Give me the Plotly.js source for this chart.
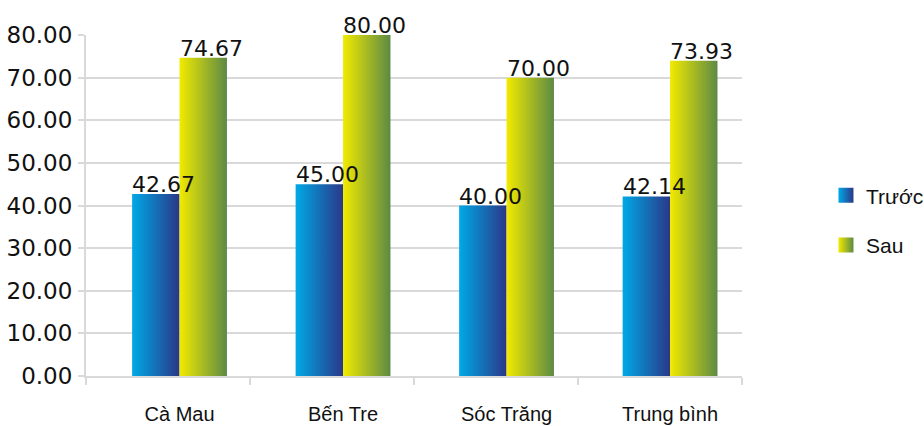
<!DOCTYPE html>
<html>
<head>
<meta charset="utf-8">
<script src="https://cdn.plot.ly/plotly-3.0.1.min.js"></script>
<style>
  html, body { margin: 0; padding: 0; background: #fff; }
  #chart { width: 924px; height: 426px; }
</style>
</head>
<body>
<div id="chart"></div>
<script>
// Provinces and the overall average
const categories = ["Cà Mau", "Bến Tre", "Sóc Trăng", "Trung bình"];
// Scores before and after
const beforeValues = [42.67, 45.00, 40.00, 42.14];
const afterValues = [74.67, 80.00, 70.00, 73.93];
const seriesNames = ["Trước", "Sau"];
const yTicks = [0, 10, 20, 30, 40, 50, 60, 70, 80];

const BAR_GAP = 0.42;              // space between category groups
const HALF_GROUP = (1 - BAR_GAP) / 2;
const GRID = "#d9d9d9";
const LABEL_FONT = { family: "DejaVu Sans", size: 22, color: "#111" };

const traces = [
  {
    type: "bar", name: seriesNames[0], x: categories, y: beforeValues,
    marker: { color: "#1a7fc4" }, legendgroup: "a", hoverinfo: "skip"
  },
  {
    type: "bar", name: seriesNames[1], x: categories, y: afterValues,
    marker: { color: "#b8c22a" }, legendgroup: "b", hoverinfo: "skip"
  },
  // carries the separate tick-mark axis along the bottom
  { type: "scatter", x: [], y: [], xaxis: "x2", yaxis: "y", showlegend: false, hoverinfo: "skip" }
];

// value labels sitting on top of each bar, starting at its left edge
const annotations = [];
categories.forEach((c, i) => {
  [[beforeValues, -HALF_GROUP], [afterValues, 0]].forEach(([vals, off]) => {
    annotations.push({
      x: i + off, y: vals[i], xref: "x", yref: "y",
      text: vals[i].toFixed(2), showarrow: false,
      xanchor: "left", yanchor: "bottom", xshift: -2, yshift: -5,
      font: LABEL_FONT
    });
  });
});

const layout = {
  width: 924, height: 426,
  margin: { l: 86, r: 182, t: 35, b: 50, autoexpand: false },
  paper_bgcolor: "#fff", plot_bgcolor: "#fff",
  barmode: "group", bargap: BAR_GAP, bargroupgap: 0,
  xaxis: {
    type: "category", categoryarray: categories,
    range: [-0.572, 3.44],
    ticks: "", showline: false, showgrid: false, zeroline: false,
    tickfont: { family: "Liberation Sans, Arial, sans-serif", size: 20, color: "#111" },
    ticklabelstandoff: 24
  },
  xaxis2: {
    overlaying: "x", anchor: "y", range: [0, 4],
    tickvals: [0, 1, 2, 3, 4], showticklabels: false,
    ticks: "outside", ticklen: 7, tickwidth: 2, tickcolor: GRID,
    showline: true, linecolor: GRID, linewidth: 2,
    showgrid: false, zeroline: false
  },
  yaxis: {
    range: [0, 80], tickvals: yTicks, tickformat: ".2f",
    showgrid: true, gridcolor: GRID, gridwidth: 2,
    showline: true, linecolor: GRID, linewidth: 2,
    ticks: "outside", ticklen: 6, tickwidth: 2, tickcolor: GRID,
    zeroline: false, ticklabelstandoff: 1,
    tickfont: { family: "DejaVu Sans", size: 23, color: "#111" }
  },
  showlegend: true,
  legend: {
    x: 1.128, xanchor: "left", y: 0.589, yanchor: "top",
    traceorder: "grouped", tracegroupgap: 19.5,
    font: { family: "Liberation Sans, Arial, sans-serif", size: 21, color: "#111" },
    bgcolor: "rgba(0,0,0,0)"
  },
  annotations: annotations
};

Plotly.newPlot("chart", traces, layout, { staticPlot: true, displayModeBar: false }).then(gd => {
  // horizontal colour ramps for each series
  const svgNS = "http://www.w3.org/2000/svg";
  const svg = gd.querySelector("svg.main-svg");
  const defs = document.createElementNS(svgNS, "defs");
  const ramps = [
    ["rampBefore", "#00a9e6", "#2a3788"],
    ["rampAfter", "#f2ea00", "#5c8a44"]
  ];
  ramps.forEach(([id, c0, c1]) => {
    const g = document.createElementNS(svgNS, "linearGradient");
    g.setAttribute("id", id);
    g.setAttribute("x1", "0"); g.setAttribute("y1", "0");
    g.setAttribute("x2", "1"); g.setAttribute("y2", "0");
    [[0, c0], [1, c1]].forEach(([o, c]) => {
      const s = document.createElementNS(svgNS, "stop");
      s.setAttribute("offset", o);
      s.setAttribute("stop-color", c);
      g.appendChild(s);
    });
    defs.appendChild(g);
  });
  svg.insertBefore(defs, svg.firstChild);

  gd.querySelectorAll(".barlayer .trace.bars").forEach((tr, k) => {
    tr.querySelectorAll("path").forEach(p => { p.style.fill = `url(#${ramps[k][0]})`; });
  });
  // square legend swatches with the same ramps (keeping Plotly's own offset)
  gd.querySelectorAll(".legend .traces").forEach((tr, k) => {
    tr.querySelectorAll(".legendpoints path").forEach(p => {
      p.setAttribute("d", "M7.5,7.5H-7.5V-7.5H7.5Z");
      p.style.fill = `url(#${ramps[k][0]})`;
      p.style.stroke = "none";
    });
  });
});
</script>
</body>
</html>
